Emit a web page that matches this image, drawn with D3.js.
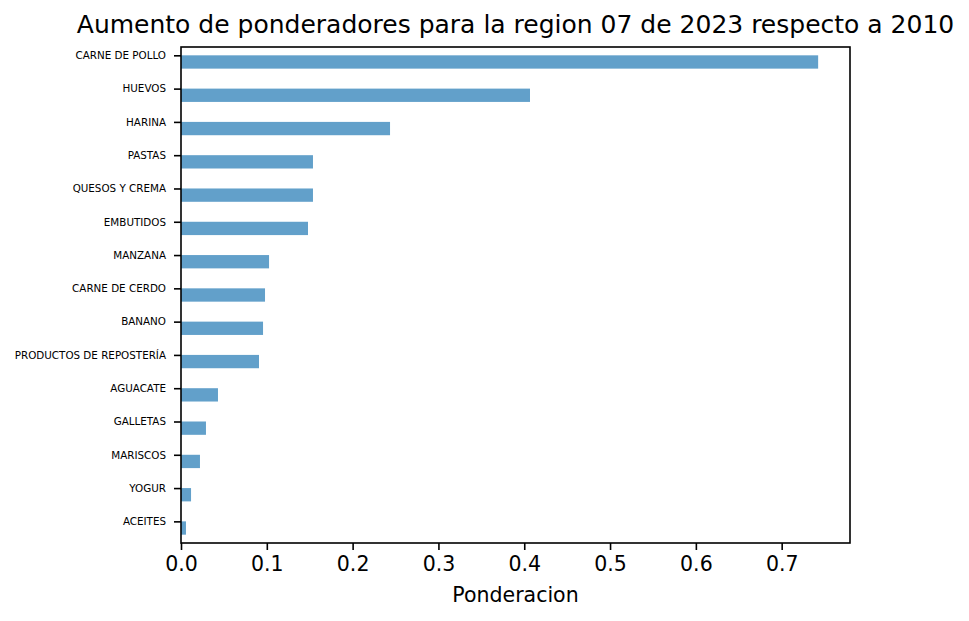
<!DOCTYPE html>
<html>
<head>
<meta charset="utf-8">
<script src="https://cdn.jsdelivr.net/npm/d3@7"></script>
<style>
  body { margin: 0; background: #fff; }
  text { font-family: "DejaVu Sans", sans-serif; fill: #000; }
</style>
</head>
<body>
<div id="chart"></div>
<script>

// datos
var productos = ["CARNE DE POLLO", "HUEVOS", "HARINA", "PASTAS", "QUESOS Y CREMA",
                 "EMBUTIDOS", "MANZANA", "CARNE DE CERDO", "BANANO", "PRODUCTOS DE REPOSTERÍA",
                 "AGUACATE", "GALLETAS", "MARISCOS", "YOGUR", "ACEITES"];
var ponderacion = [0.7425, 0.4067, 0.2436, 0.1538, 0.1538,
                   0.1480, 0.1026, 0.0979, 0.0956, 0.0909,
                   0.0431, 0.0291, 0.0221, 0.0117, 0.0058];
var xTicks = [0, 0.1, 0.2, 0.3, 0.4, 0.5, 0.6, 0.7];

var titulo = "Aumento de ponderadores para la region 07 de 2023 respecto a 2010";

var width = 969, height = 621;
var mLeft = 181, mRight = 850, mTop = 47, mBottom = 543;

var svg = d3.select("#chart").append("svg")
    .attr("width", width).attr("height", height);

var x = d3.scaleLinear()
    .domain([0, d3.max(ponderacion) * 1.05])
    .range([mLeft, mRight]);

// posiciones de categoria, las barras van del tick hacia abajo (0.4 de ancho)
var y = d3.scaleLinear()
    .domain([-0.25, productos.length - 1 + 0.65])
    .range([mTop, mBottom]);

svg.append("g").selectAll("rect")
    .data(ponderacion)
    .enter().append("rect")
    .attr("x", x(0))
    .attr("y", function(d, i){ return y(i); })
    .attr("width", function(d){ return x(d) - x(0); })
    .attr("height", function(d, i){ return y(i + 0.4) - y(i); })
    .style("fill", "#1f77b4")
    .style("fill-opacity", 0.7);

// eje x
var xAxis = svg.append("g")
    .attr("transform", "translate(0," + mBottom + ")")
    .call(d3.axisBottom(x).tickValues(xTicks).tickFormat(d3.format(".1f"))
          .tickSizeInner(7).tickSizeOuter(0).tickPadding(6));
xAxis.select(".domain").remove();
xAxis.selectAll(".tick line").attr("stroke", "#000").attr("stroke-width", 1.6);
xAxis.selectAll(".tick text").style("font-size", "20.5px").attr("font-family", null);

// eje y
var yAxis = svg.append("g")
    .attr("transform", "translate(" + mLeft + ",0)")
    .call(d3.axisLeft(y).tickValues(d3.range(productos.length))
          .tickFormat(function(i){ return productos[i]; })
          .tickSizeInner(7).tickSizeOuter(0).tickPadding(8));
yAxis.select(".domain").remove();
yAxis.selectAll(".tick line").attr("stroke", "#000").attr("stroke-width", 1.6);
yAxis.selectAll(".tick text").style("font-size", "10.35px").attr("font-family", null);

// marco
svg.append("rect")
    .attr("x", mLeft).attr("y", mTop)
    .attr("width", mRight - mLeft).attr("height", mBottom - mTop)
    .style("fill", "none").style("stroke", "#000").style("stroke-width", 1.6);

svg.append("text")
    .attr("x", (mLeft + mRight) / 2).attr("y", 33)
    .attr("text-anchor", "middle")
    .style("font-size", "25px")
    .text(titulo);

svg.append("text")
    .attr("x", (mLeft + mRight) / 2).attr("y", 602)
    .attr("text-anchor", "middle")
    .style("font-size", "20.5px")
    .text("Ponderacion");

</script>
</body>
</html>
